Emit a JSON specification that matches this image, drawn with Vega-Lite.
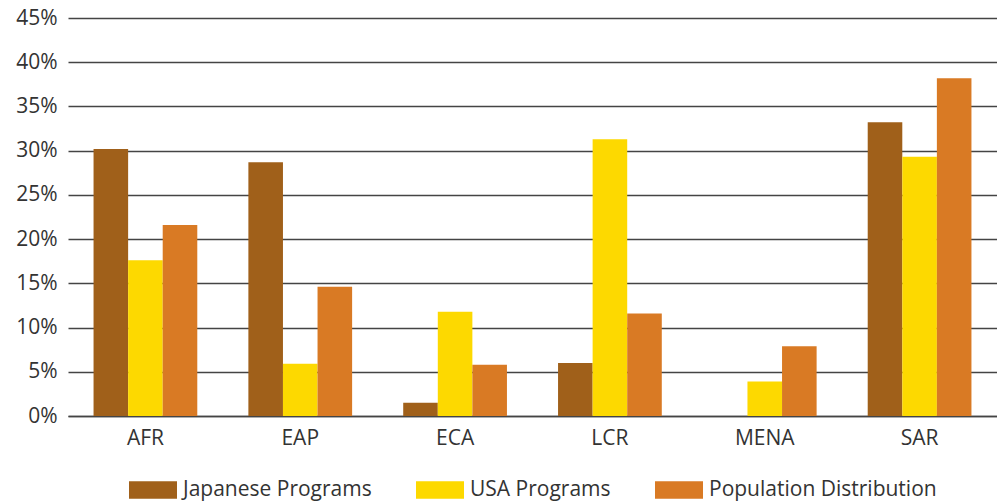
{
  "$schema": "https://vega.github.io/schema/vega-lite/v6.json",
  "width": 929,
  "height": 398,
  "autosize": {"type": "none"},
  "padding": {"left": 68, "top": 18, "right": 0, "bottom": 88},
  "background": "white",
  "data": {
    "values": [
      {"region": "AFR", "series": "Japanese Programs", "value": 0.302},
      {"region": "AFR", "series": "USA Programs", "value": 0.176},
      {"region": "AFR", "series": "Population Distribution", "value": 0.216},
      {"region": "EAP", "series": "Japanese Programs", "value": 0.287},
      {"region": "EAP", "series": "USA Programs", "value": 0.059},
      {"region": "EAP", "series": "Population Distribution", "value": 0.146},
      {"region": "ECA", "series": "Japanese Programs", "value": 0.015},
      {"region": "ECA", "series": "USA Programs", "value": 0.118},
      {"region": "ECA", "series": "Population Distribution", "value": 0.058},
      {"region": "LCR", "series": "Japanese Programs", "value": 0.060},
      {"region": "LCR", "series": "USA Programs", "value": 0.313},
      {"region": "LCR", "series": "Population Distribution", "value": 0.116},
      {"region": "MENA", "series": "Japanese Programs", "value": 0.0},
      {"region": "MENA", "series": "USA Programs", "value": 0.039},
      {"region": "MENA", "series": "Population Distribution", "value": 0.079},
      {"region": "SAR", "series": "Japanese Programs", "value": 0.332},
      {"region": "SAR", "series": "USA Programs", "value": 0.293},
      {"region": "SAR", "series": "Population Distribution", "value": 0.382}
    ]
  },
  "mark": {"type": "bar"},
  "encoding": {
    "x": {
      "field": "region",
      "type": "nominal",
      "sort": ["AFR", "EAP", "ECA", "LCR", "MENA", "SAR"],
      "scale": {"paddingInner": 0.33, "paddingOuter": 0.165},
      "axis": {
        "title": null,
        "labelAngle": 0,
        "ticks": false,
        "domain": true,
        "domainColor": "#444444",
        "domainWidth": 1.5,
        "labelPadding": 11,
        "grid": false
      }
    },
    "xOffset": {
      "field": "series",
      "type": "nominal",
      "sort": ["Japanese Programs", "USA Programs", "Population Distribution"],
      "scale": {"paddingInner": 0, "paddingOuter": 0}
    },
    "y": {
      "field": "value",
      "type": "quantitative",
      "scale": {"domain": [0, 0.45], "nice": false},
      "axis": {
        "title": null,
        "format": ".0%",
        "values": [0, 0.05, 0.1, 0.15, 0.2, 0.25, 0.3, 0.35, 0.4, 0.45],
        "ticks": false,
        "domain": false,
        "grid": true,
        "gridColor": "#444444",
        "gridWidth": 1.5,
        "gridOpacity": 1,
        "labelPadding": 11
      }
    },
    "color": {
      "field": "series",
      "type": "nominal",
      "sort": ["Japanese Programs", "USA Programs", "Population Distribution"],
      "scale": {
        "domain": ["Japanese Programs", "USA Programs", "Population Distribution"],
        "range": ["#A0601A", "#FDD900", "#D97A24"]
      },
      "legend": {
        "title": null,
        "orient": "bottom",
        "direction": "horizontal",
        "symbolType": "M-1,-0.36H1V0.36H-1Z",
        "symbolSize": 2304,
        "symbolStrokeWidth": 0,
        "symbolOpacity": 1,
        "labelOffset": 6,
        "labelLimit": 400,
        "columnPadding": 44,
        "offset": 18
      }
    }
  },
  "config": {
    "view": {"stroke": null},
    "font": "Open Sans",
    "axis": {"labelFontSize": 21, "labelColor": "#333333", "labelFont": "Open Sans"},
    "legend": {"labelFontSize": 21, "labelColor": "#333333", "labelFont": "Open Sans", "layout": {"bottom": {"anchor": "middle"}}}
  }
}
